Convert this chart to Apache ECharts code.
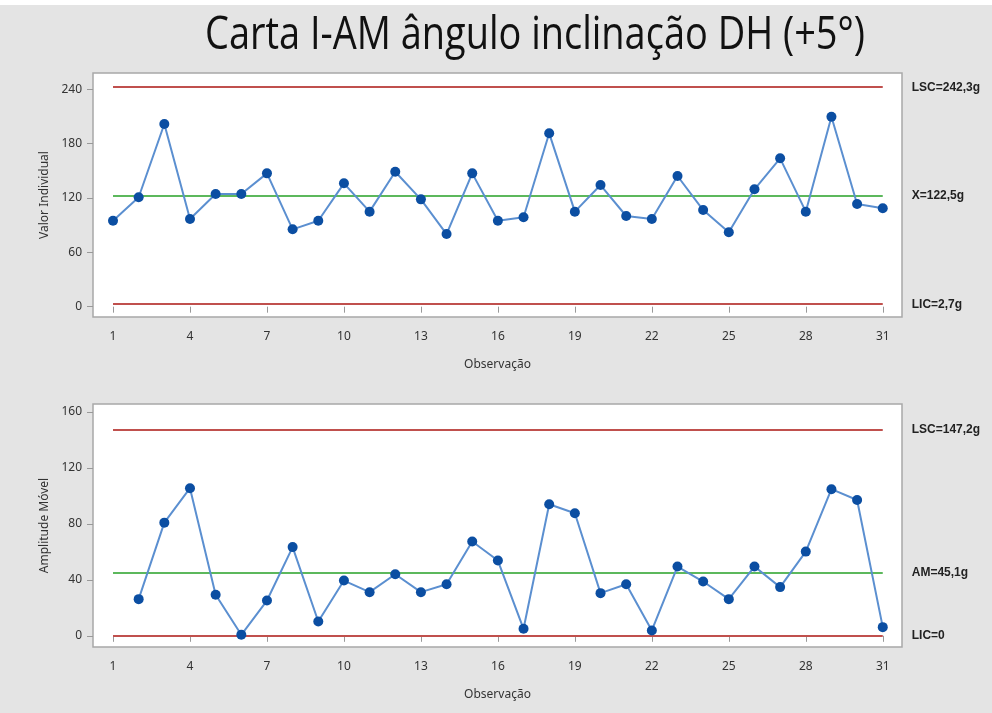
<!DOCTYPE html>
<html>
<head>
<meta charset="utf-8">
<script src="https://cdn.jsdelivr.net/npm/echarts@6/dist/echarts.min.js"></script>
<style>
  html, body { margin: 0; padding: 0; background: #fff; }
  #chart { width: 992px; height: 713px; }
</style>
</head>
<body>
<div id="chart"></div>
<script>
const observacoes = [1, 2, 3, 4, 5, 6, 7, 8, 9, 10, 11, 12, 13, 14, 15, 16,
  17, 18, 19, 20, 21, 22, 23, 24, 25, 26, 27, 28, 29, 30, 31];
const valorIndividual = [94.9, 120.8, 201.7, 96.8, 124.4, 124.4, 147.2, 85.4, 94.9, 136.2,
  104.9, 149.0, 118.5, 80.2, 147.2, 94.9, 98.7, 191.4, 104.9, 134.3,
  100.1, 96.8, 144.3, 106.7, 82.1, 129.6, 163.8, 104.9, 209.7, 113.4, 108.6];
const amplitudeMovel = [null, 26.2, 80.9, 105.5, 29.3, 0.7, 25.2, 63.4, 10.2, 39.5,
  31.2, 44.0, 31.2, 36.9, 67.4, 53.8, 5.0, 94.0, 87.6, 30.5,
  36.9, 3.8, 49.5, 38.8, 26.2, 49.5, 34.8, 60.2, 104.8, 97.1, 6.2];
const xTicks = [1, 4, 7, 10, 13, 16, 19, 22, 25, 28, 31];
const yTicksI = [0, 60, 120, 180, 240];
const yTicksAM = [0, 40, 80, 120, 160];
const limitesI = [242.3, 122.5, 2.7];
const rotulosI = ['LSC=242,3g', 'X=122,5g', 'LIC=2,7g'];
const limitesAM = [147.2, 45.1, 0];
const rotulosAM = ['LSC=147,2g', 'AM=45,1g', 'LIC=0'];
const titulo = 'Carta I-AM ângulo inclinação DH (+5°)';

const corLimite = ['#c0504d', '#5cb85c', '#c0504d'];
const fonte = 'Noto Sans';

// titulo estreito tipo Calibri: mede e comprime na horizontal
const fonteTitulo = 'normal 46px "Open Sans"';
const ctx = document.createElement('canvas').getContext('2d');
ctx.font = fonteTitulo;
const escalaTitulo = 660 / ctx.measureText(titulo).width;

const chart = echarts.init(document.getElementById('chart'));

function eixoX(idx) {
  return {
    type: 'value', gridIndex: idx, min: 0.22, max: 31.75,
    name: 'Observação', nameLocation: 'middle', nameGap: 42,
    nameTextStyle: { fontFamily: fonte, fontSize: 12, color: '#333' },
    axisLine: { show: false },
    axisTick: { show: true, length: 6, customValues: xTicks, lineStyle: { color: '#999' } },
    axisLabel: { margin: 14, customValues: xTicks, fontFamily: fonte, fontSize: 12, color: '#333' },
    splitLine: { show: false }
  };
}

function eixoY(idx, min, max, ticks, nome) {
  return {
    type: 'value', gridIndex: idx, min: min, max: max,
    name: nome, nameLocation: 'middle', nameGap: 42,
    nameTextStyle: { fontFamily: fonte, fontSize: 12, color: '#333' },
    axisLine: { show: false },
    axisTick: { show: true, length: 6, customValues: ticks, lineStyle: { color: '#999' } },
    axisLabel: { margin: 11, customValues: ticks, fontFamily: fonte, fontSize: 12, color: '#333' },
    splitLine: { show: false }
  };
}

function serie(idx, valores, limites, rotulos) {
  return {
    type: 'line', xAxisIndex: idx, yAxisIndex: idx,
    data: observacoes.map((o, i) => [o, valores[i]]),
    symbol: 'circle', symbolSize: 10,
    itemStyle: { color: '#0b4ea2' },
    lineStyle: { color: '#5b8fd0', width: 2 },
    connectNulls: false,
    z: 5,
    markLine: {
      silent: true, symbol: 'none', animation: false,
      data: limites.map((v, i) => [
        { coord: [1, v], lineStyle: { color: corLimite[i], width: 2, type: 'solid' },
          label: { show: true, position: 'end', distance: 29, formatter: rotulos[i],
            fontFamily: 'Liberation Sans', fontSize: 12, fontWeight: 'bold', color: '#222',
            padding: [3, 0, 0, 0] } },
        { coord: [31, v] }
      ])
    }
  };
}

chart.setOption({
  backgroundColor: '#e4e4e4',
  animation: false,
  graphic: [
    { type: 'rect', left: 0, top: 0, shape: { width: 992, height: 5 }, style: { fill: '#fff' }, z: -1 },
    { type: 'text', x: 535, y: 36, scaleX: escalaTitulo, z: 10,
      style: { text: titulo, font: fonteTitulo, fill: '#111', align: 'center', verticalAlign: 'middle' } }
  ],
  grid: [
    { left: 93, top: 73, width: 809, height: 244, show: true, backgroundColor: '#fff', borderColor: '#a8a8a8', borderWidth: 1.5 },
    { left: 93, top: 404, width: 809, height: 243, show: true, backgroundColor: '#fff', borderColor: '#a8a8a8', borderWidth: 1.5 }
  ],
  xAxis: [eixoX(0), eixoX(1)],
  yAxis: [
    eixoY(0, -11.4, 258, yTicksI, 'Valor Individual'),
    eixoY(1, -8, 165.7, yTicksAM, 'Amplitude Móvel')
  ],
  series: [
    serie(0, valorIndividual, limitesI, rotulosI),
    serie(1, amplitudeMovel, limitesAM, rotulosAM)
  ]
});
</script>
</body>
</html>
